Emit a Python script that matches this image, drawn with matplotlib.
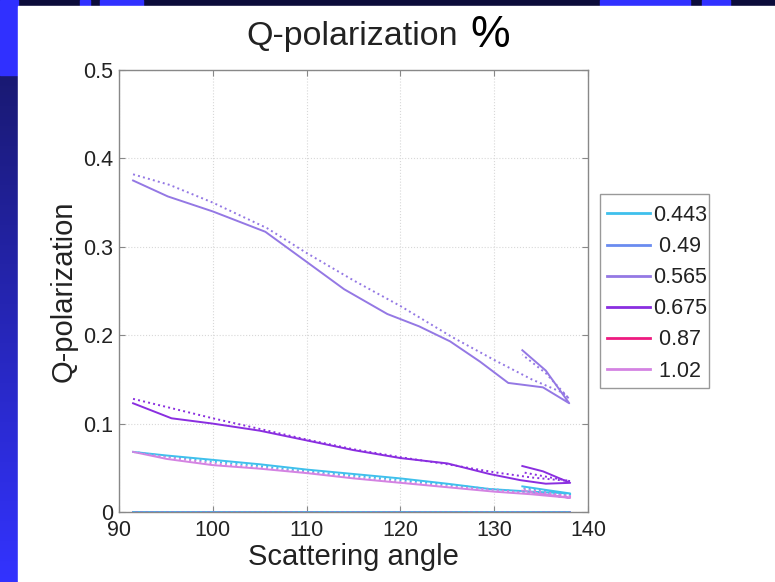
import numpy as np
import matplotlib
matplotlib.use("Agg")
import matplotlib.pyplot as plt
from matplotlib.patches import Rectangle

plt.rcParams['font.family'] = ['Liberation Sans', 'DejaVu Sans']

# wavelengths (um) shown in legend
wavelengths = ["0.443", " 0.49", "0.565", "0.675", " 0.87", " 1.02"]
colors = ["#3fc0ec", "#6a8cf0", "#9478e4", "#8a2ee0", "#ee1a80", "#d483e2"]

# 0.443
ang_443 = [91.5, 95.0, 100.0, 105.0, 110.0, 115.0, 120.0, 125.0, 129.5, 134.0, 138.1, 135.5, 133.0]
q_443 = [0.068, 0.064, 0.059, 0.054, 0.048, 0.043, 0.038, 0.032, 0.026, 0.023, 0.021, 0.025, 0.029]
q_443_m = [0.068, 0.063, 0.057, 0.052, 0.046, 0.041, 0.036, 0.031, 0.026, 0.022, 0.020, 0.024, 0.027]

# 0.49 (zero)
ang_490 = [91.5, 138.1]
q_490 = [0.0, 0.0]

# 0.565
ang_565 = [91.5, 95.2, 100.0, 105.6, 110.0, 114.0, 118.6, 122.0, 125.3, 128.5, 131.5, 133.0, 135.2, 138.0, 135.5, 133.0]
q_565 = [0.375, 0.357, 0.340, 0.317, 0.283, 0.252, 0.224, 0.210, 0.193, 0.170, 0.146, 0.144, 0.141, 0.123, 0.160, 0.183]
ang_565_m = [91.5, 95.4, 100.0, 105.8, 110.0, 115.0, 120.0, 125.5, 130.0, 134.0, 137.3, 138.0, 135.5, 133.0]
q_565_m = [0.382, 0.370, 0.350, 0.321, 0.293, 0.262, 0.233, 0.198, 0.172, 0.150, 0.135, 0.128, 0.157, 0.178]

# 0.675
ang_675 = [91.5, 95.6, 100.0, 105.0, 110.0, 115.0, 120.0, 125.0, 129.5, 132.8, 135.5, 138.1, 135.2, 133.0]
q_675 = [0.123, 0.106, 0.100, 0.092, 0.081, 0.070, 0.061, 0.055, 0.043, 0.036, 0.032, 0.033, 0.046, 0.052]
ang_675_m = [91.5, 95.0, 100.0, 105.0, 110.0, 115.0, 120.0, 125.0, 130.0, 134.0, 138.1, 135.5, 133.0]
q_675_m = [0.128, 0.119, 0.106, 0.094, 0.082, 0.071, 0.062, 0.054, 0.045, 0.039, 0.035, 0.040, 0.045]

# 1.02
ang_102 = [91.5, 95.1, 100.0, 105.0, 110.0, 115.0, 120.0, 125.0, 130.0, 134.0, 138.1, 135.5, 133.0]
q_102 = [0.068, 0.060, 0.053, 0.049, 0.044, 0.038, 0.033, 0.028, 0.023, 0.020, 0.016, 0.020, 0.024]
q_102_m = [0.068, 0.062, 0.055, 0.050, 0.045, 0.039, 0.034, 0.029, 0.025, 0.021, 0.018, 0.022, 0.026]

W, H = 775, 582
fig = plt.figure(figsize=(W / 100, H / 100), dpi=100)
fig.patch.set_facecolor("#0b0b3a")

# slide background
bg = fig.add_axes([0, 0, 1, 1], zorder=-5)
bg.set_xlim(0, W)
bg.set_ylim(H, 0)
bg.axis("off")
grad = np.linspace(0, 1, 200).reshape(-1, 1)
bg.imshow(np.dstack([0.1 + 0.1 * grad, 0.1 + 0.1 * grad, 0.45 + 0.55 * grad]),
          extent=(0, 18, H, 75), aspect="auto")
bg.add_patch(Rectangle((0, 0), 18, 75, color="#3030ff"))
for x0, x1 in [(80, 90), (100, 143), (600, 690), (702, 730)]:
    bg.add_patch(Rectangle((x0, 0), x1 - x0, 6, color="#3030ff"))
bg.add_patch(Rectangle((18, 6), W - 18, H - 6, color="white"))
# legend box
bg.add_patch(Rectangle((600, 194), 109, 194, facecolor="white", edgecolor="#999999", lw=1.0))

ax = fig.add_axes([119 / W, 1 - 512 / H, 469 / W, 442 / H])
for i, (a, q) in enumerate([(ang_443, q_443), (ang_490, q_490), (ang_565, q_565),
                            (ang_675, q_675), (None, None), (ang_102, q_102)]):
    if a is None:
        ax.plot([], [], color=colors[i], lw=1.4, label=wavelengths[i])
    else:
        ax.plot(a, q, color=colors[i], lw=1.4, label=wavelengths[i])

ax.plot(ang_443, q_443_m, color=colors[0], lw=1.4, ls=":")
ax.plot(ang_490, q_490, color=colors[0], lw=1.4, ls=":", clip_on=False)
ax.plot(ang_565_m, q_565_m, color=colors[2], lw=1.4, ls=":")
ax.plot(ang_675_m, q_675_m, color=colors[3], lw=1.4, ls=":")
ax.plot(ang_102, q_102_m, color=colors[5], lw=1.4, ls=":")

ax.set_xlim(90, 140)
ax.set_ylim(0, 0.5)
ax.set_xticks([90, 100, 110, 120, 130, 140])
ax.set_yticks([0, 0.1, 0.2, 0.3, 0.4, 0.5])
ax.set_yticklabels(["0", "0.1", "0.2", "0.3", "0.4", "0.5"])
ax.grid(True, color="#d8d8d8", ls=":", lw=0.8)
ax.tick_params(direction="in", top=True, right=True, labelsize=15.5,
               colors="#888888", labelcolor="#222222", length=4, pad=4)
ax.tick_params(axis="x", pad=6)
for s in ax.spines.values():
    s.set_color("#888888")
    s.set_linewidth(1.0)
ax.set_xlabel("Scattering angle", fontsize=21, color="#222222", labelpad=1)
ax.set_ylabel("Q-polarization", fontsize=21, color="#222222", labelpad=4)

leg = ax.legend(loc="upper left", bbox_to_anchor=(607 / W, 1 - 205 / H),
                bbox_transform=fig.transFigure, fontsize=15.5, frameon=False,
                handlelength=2.0, handletextpad=0.15, labelspacing=0.47,
                borderpad=0, borderaxespad=0)
for t in leg.get_texts():
    t.set_color("#222222")
for l in leg.get_lines():
    l.set_linewidth(2.0)

fig.text(458 / W, 1 - 45 / H, "Q-polarization", fontsize=24.5, color="#222222",
         ha="right", va="baseline")
fig.text(470 / W, 1 - 47 / H, "%", fontsize=32, color="black", ha="left", va="baseline")

fig.savefig("out.png", dpi=100, facecolor=fig.get_facecolor())
